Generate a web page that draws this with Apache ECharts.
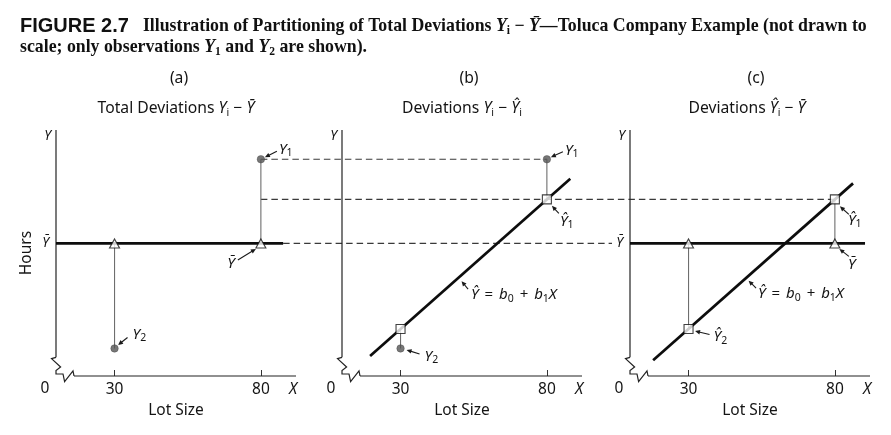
<!DOCTYPE html>
<html>
<head>
<meta charset="utf-8">
<script src="https://cdn.jsdelivr.net/npm/echarts@6/dist/echarts.min.js"></script>
<style>html,body{margin:0;padding:0;background:#fff}#c{width:891px;height:435px}</style>
</head>
<body>
<div id="c"></div>
<script>
// ---------------- data (notional "Hours" scale; figure is not drawn to scale) ----------------
const xTicks = [30, 80];                 // lot sizes shown on the X axis
const xNameAt = 91;                      // where the axis letter X sits
const obsX = [80, 30];                   // X1, X2
const obsY = [88.1, 11.2];               // Y1, Y2  (observations)
const fitY = [71.8, 19.1];               // Ŷ1, Ŷ2  (fitted values)
const meanY = 53.9;                      // Ȳ
const yTopLabel = 97.6;                  // where the axis letter Y sits
const xAxisSpan = [16.15, 92];           // visible X axis after the break
const yAxisSpan = [7.6, 100];            // visible Y axis above the break
const meanLineA = [[10, 53.9], [87.6, 53.9]];
const meanLineC = [[10, 53.9], [90.3, 53.9]];
const fitLineB = [[19.6, 8.1], [88.0, 80.2]];
const fitLineC = [[17.9, 6.4], [86.2, 78.3]];
const panelLetters = ['(a)', '(b)', '(c)'];
const panelTitles = [
  '{r|Total Deviations }{i|Y}{s|i}{r| − }{i|Ȳ}',
  '{r|Deviations }{i|Y}{s|i}{r| − }{i|Ŷ}{s|i}',
  '{r|Deviations }{i|Ŷ}{s|i}{r| − }{i|Ȳ}'
];

// ---------------- styles / layout ----------------
const F = "'Noto Sans', 'DejaVu Sans', sans-serif";
const INK = '#141414';
const gridLefts = [56, 342, 630];
const GT = 130, GW = 240, GH = 246;
const headerX = [179, 469, 756];
const subX = [176, 462, 747];

const RICH = {
  r: {fontFamily: F, fontSize: 15.7, fill: INK, color: INK, lineHeight: 20},
  i: {fontFamily: F, fontSize: 15.7, fontStyle: 'italic', fill: INK, color: INK, lineHeight: 20},
  s: {fontFamily: F, fontSize: 10.5, fill: INK, color: INK, lineHeight: 10, verticalAlign: 'bottom'}
};
const RICH_SM = {
  r: {fontFamily: F, fontSize: 15, fill: INK, color: INK, lineHeight: 19},
  o: {fontFamily: F, fontSize: 15, fill: INK, color: INK, lineHeight: 19, padding: [0, 2, 0, 2]},
  i: {fontFamily: F, fontSize: 15, fontStyle: 'italic', fill: INK, color: INK, lineHeight: 19},
  s: {fontFamily: F, fontSize: 10.5, fill: INK, color: INK, lineHeight: 10, verticalAlign: 'bottom'}
};

const axisStyle = {color: '#222', width: 1.2};
const thin = {color: '#6e6e6e', width: 1.1};
const thick = {color: '#0d0d0d', width: 2.7};

function line(i, data, style) {
  return {type: 'line', xAxisIndex: i, yAxisIndex: i, data: data, symbol: 'none',
          silent: true, clip: false, lineStyle: style, z: 2, animation: false};
}
function pts(i, data, kind) {
  const k = {
    obs: {symbol: 'circle', symbolSize: 7.5, itemStyle: {color: '#555', borderColor: '#444', borderWidth: 0.5}},
    fit: {symbol: 'rect', symbolSize: 9, itemStyle: {color: '#fff', borderColor: '#111', borderWidth: 1.1}},
    mean: {symbol: 'triangle', symbolSize: [10, 9], itemStyle: {color: '#fff', borderColor: '#111', borderWidth: 1.1}}
  }[kind];
  return Object.assign({type: 'scatter', xAxisIndex: i, yAxisIndex: i, data: data, silent: true,
                        z: 5, animation: false}, k);
}

const series = [];
for (let i = 0; i < 3; i++) {
  series.push(line(i, [[10, yAxisSpan[0]], [10, yAxisSpan[1]]], axisStyle));
  series.push(line(i, [[xAxisSpan[0], 0], [xAxisSpan[1], 0]], axisStyle));
}
// (a) total deviations
series.push(line(0, [[obsX[0], obsY[0]], [obsX[0], meanY]], thin));
series.push(line(0, [[obsX[1], meanY], [obsX[1], obsY[1]]], thin));
series.push(line(0, meanLineA, thick));
series.push(pts(0, [[obsX[0], obsY[0]], [obsX[1], obsY[1]]], 'obs'));
series.push(pts(0, [[obsX[0], meanY], [obsX[1], meanY]], 'mean'));
// (b) deviations Y - Ŷ
series.push(line(1, [[obsX[0], obsY[0]], [obsX[0], fitY[0]]], thin));
series.push(line(1, [[obsX[1], fitY[1]], [obsX[1], obsY[1]]], thin));
series.push(line(1, fitLineB, thick));
series.push(pts(1, [[obsX[0], obsY[0]], [obsX[1], obsY[1]]], 'obs'));
series.push(pts(1, [[obsX[0], fitY[0]], [obsX[1], fitY[1]]], 'fit'));
// (c) deviations Ŷ - Ȳ
series.push(line(2, [[obsX[1], meanY], [obsX[1], fitY[1]]], thin));
series.push(line(2, [[obsX[0], fitY[0]], [obsX[0], meanY]], thin));
series.push(line(2, meanLineC, thick));
series.push(line(2, fitLineC, thick));
series.push(pts(2, [[obsX[0], meanY], [obsX[1], meanY]], 'mean'));
series.push(pts(2, [[obsX[0], fitY[0]], [obsX[1], fitY[1]]], 'fit'));

const titleText =
  '{f|FIGURE 2.7}{t|Illustration of Partitioning of Total Deviations }{ti|Y}{ts|i}{t| − }{ti|Ȳ}{t|—Toluca Company Example (not drawn to}\n' +
  '{t|scale; only observations }{ti|Y}{ts|1}{t| and }{ti|Y}{ts|2}{t| are shown).}';
const SERIF = "'Liberation Serif', 'Times New Roman', serif";

const option = {
  animation: false,
  backgroundColor: '#ffffff',
  title: [{
    text: titleText, left: 20, top: 16, padding: 0,
    textStyle: {
      rich: {
        f: {fontFamily: "'Liberation Sans', Arial, sans-serif", fontWeight: 'bold', fontSize: 20, color: '#111', lineHeight: 21, padding: [0, 14, 0, 0]},
        t: {fontFamily: SERIF, fontWeight: 'bold', fontSize: 17.8, color: '#111', lineHeight: 21},
        ti: {fontFamily: SERIF, fontWeight: 'bold', fontStyle: 'italic', fontSize: 17.8, color: '#111', lineHeight: 21},
        ts: {fontFamily: SERIF, fontWeight: 'bold', fontSize: 11.5, color: '#111', lineHeight: 13, verticalAlign: 'bottom'}
      }
    }
  }],
  grid: gridLefts.map(l => ({left: l, top: GT, width: GW, height: GH})),
  xAxis: [0, 1, 2].map(i => ({
    gridIndex: i, type: 'value', min: 10, max: 92,
    axisLine: {show: false}, splitLine: {show: false},
    axisTick: {show: true, inside: true, length: 6, customValues: xTicks, lineStyle: {color: '#333', width: 1}},
    axisLabel: {
      show: true, customValues: xTicks.concat([xNameAt]), margin: 6,
      fontFamily: F, fontSize: 15.5, color: INK,
      formatter: v => v === xNameAt ? '{i|X}' : String(v),
      rich: {i: {fontFamily: F, fontStyle: 'italic', fontSize: 15.5, color: INK}}
    },
    name: 'Lot Size', nameLocation: 'middle', nameGap: 26,
    nameTextStyle: {fontFamily: F, fontSize: 15.5, color: INK}
  })),
  yAxis: [0, 1, 2].map(i => ({
    gridIndex: i, type: 'value', min: 0, max: 100,
    axisLine: {show: false}, axisTick: {show: false}, splitLine: {show: false},
    axisLabel: {
      show: true, customValues: i === 1 ? [yTopLabel] : [meanY, yTopLabel], margin: 5,
      formatter: v => v === yTopLabel ? '{i|Y}' : '{b|Ȳ}',
      rich: {
        i: {fontFamily: F, fontStyle: 'italic', fontSize: 13.5, color: INK},
        b: {fontFamily: F, fontStyle: 'italic', fontSize: 13.5, color: INK, padding: [0, 2, 0, 0]}
      }
    },
    name: i === 0 ? 'Hours' : '', nameLocation: 'middle', nameRotate: 90, nameGap: 21,
    nameTextStyle: {fontFamily: F, fontSize: 15.5, color: INK}
  })),
  series: series
};

const chart = echarts.init(document.getElementById('c'), null, {renderer: 'canvas'});
chart.setOption(option);

// ---------------- decorations placed through the chart's own scales ----------------
const px = (i, p) => chart.convertToPixel({gridIndex: i}, p);
const G = [];

function dashed(a, b) {
  G.push({type: 'line', silent: true, z: 1,
          shape: {x1: a[0], y1: a[1], x2: b[0], y2: b[1]},
          style: {stroke: '#3a3a3a', lineWidth: 1.1, lineDash: [6.5, 4]}});
}
dashed(px(0, [obsX[0], obsY[0]]), px(1, [obsX[0], obsY[0]]));
dashed(px(0, [obsX[0], fitY[0]]), px(2, [obsX[0], fitY[0]]));
(function () {
  const a = px(0, [meanLineA[1][0], meanY]);
  const b = px(2, [10, meanY]);
  dashed(a, [b[0] - 18, b[1]]);
})();

// axis breaks and the "0" labels
for (let i = 0; i < 3; i++) {
  const c = px(i, [10, 0]);
  const top = px(i, [10, yAxisSpan[0]]);
  const end = px(i, [xAxisSpan[0], 0]);
  const rel = [[-4.5, -17.4], [4.6, -9], [0, -5.5], [0, -2], [7, -2], [8.6, 5.6], [17, -5.2]];
  const points = [top].concat(rel.map(r => [c[0] + r[0], c[1] + r[1]])).concat([end]);
  G.push({type: 'polyline', silent: true, z: 3, shape: {points: points},
          style: {stroke: '#222', lineWidth: 1.2, fill: null}});
  G.push({type: 'text', silent: true, z: 10, x: c[0] - 11, y: c[1] + 13,
          style: {text: '0', fontFamily: F, fontSize: 15.5, fill: INK, align: 'center', verticalAlign: 'middle',
                  textAlign: 'center', textVerticalAlign: 'middle'}});
}

// panel headers
for (let i = 0; i < 3; i++) {
  G.push({type: 'text', silent: true, z: 10, x: headerX[i], y: 79,
          style: {text: panelLetters[i], fontFamily: F, fontSize: 15.7, fill: INK, align: 'center', verticalAlign: 'middle',
                  textAlign: 'center', textVerticalAlign: 'middle'}});
  G.push({type: 'text', silent: true, z: 10, x: subX[i], y: 109,
          style: {text: panelTitles[i], rich: RICH, fontFamily: F, fontSize: 15.7, fill: INK, align: 'center', verticalAlign: 'middle',
                  textAlign: 'center', textVerticalAlign: 'middle'}});
}

// pointer annotations
function lerp(a, b, t) { return [a[0] + (b[0] - a[0]) * t, a[1] + (b[1] - a[1]) * t]; }
const eqText = '{i|Ŷ}{o| = }{i|b}{s|0}{o| + }{i|b}{s|1}{i|X}';
const eqB = lerp(px(1, [obsX[1], fitY[1]]), px(1, [obsX[0], fitY[0]]), 0.4);
const eqC = lerp(px(2, [obsX[1], fitY[1]]), px(2, [obsX[0], fitY[0]]), 0.4);
const notes = [
  {at: px(0, [obsX[0], obsY[0]]), text: '{i|Y}{s|1}', lab: [18, -10, 'left'], arr: [[16, -8], [4, -2]]},
  {at: px(0, [obsX[0], meanY]), text: '{i|Ȳ}', lab: [-26, 20, 'right'], arr: [[-23, 16.5], [-5, 5.5]]},
  {at: px(0, [obsX[1], obsY[1]]), text: '{i|Y}{s|2}', lab: [18, -14, 'left'], arr: [[13, -11], [3.5, -3.5]]},
  {at: px(1, [obsX[0], obsY[0]]), text: '{i|Y}{s|1}', lab: [18, -9, 'left'], arr: [[16, -7.5], [4, -2]]},
  {at: px(1, [obsX[0], fitY[0]]), text: '{i|Ŷ}{s|1}', lab: [13, 22, 'left'], arr: [[12, 14], [5, 6.5]]},
  {at: eqB, text: eqText, lab: [12, 17.5, 'left'], arr: [[9, 12], [2.5, 4]]},
  {at: px(1, [obsX[1], obsY[1]]), text: '{i|Y}{s|2}', lab: [24, 8, 'left'], arr: [[19, 5.5], [6, 1.5]]},
  {at: px(2, [obsX[0], fitY[0]]), text: '{i|Ŷ}{s|1}', lab: [13, 21, 'left'], arr: [[14, 15], [5, 7]]},
  {at: px(2, [obsX[0], meanY]), text: '{i|Ȳ}', lab: [13, 21, 'left'], arr: [[14, 13], [4.5, 5.5]]},
  {at: px(2, [obsX[1], fitY[1]]), text: '{i|Ŷ}{s|2}', lab: [25, 8, 'left'], arr: [[21, 5.5], [6.5, 2]]},
  {at: eqC, text: eqText, lab: [11, 17, 'left'], arr: [[9, 11], [1.5, 3.5]]}
];
notes.forEach(n => {
  const p = n.at;
  const s = [p[0] + n.arr[0][0], p[1] + n.arr[0][1]];
  const e = [p[0] + n.arr[1][0], p[1] + n.arr[1][1]];
  const dx = e[0] - s[0], dy = e[1] - s[1], L = Math.hypot(dx, dy);
  const ux = dx / L, uy = dy / L, nx = -uy, ny = ux;
  const hl = 5, hw = 2.3;
  const b = [e[0] - ux * hl, e[1] - uy * hl];
  G.push({type: 'line', silent: true, z: 20,
          shape: {x1: s[0], y1: s[1], x2: b[0] + ux, y2: b[1] + uy},
          style: {stroke: '#1a1a1a', lineWidth: 1.1}});
  G.push({type: 'polygon', silent: true, z: 20,
          shape: {points: [e, [b[0] + nx * hw, b[1] + ny * hw], [b[0] - nx * hw, b[1] - ny * hw]]},
          style: {fill: '#1a1a1a'}});
  G.push({type: 'text', silent: true, z: 20, x: p[0] + n.lab[0], y: p[1] + n.lab[1],
          style: {text: n.text, rich: RICH_SM, fontFamily: F, fontSize: 15, fill: INK,
                  align: n.lab[2], verticalAlign: 'middle', textAlign: n.lab[2], textVerticalAlign: 'middle'}});
});

chart.setOption({graphic: G});
</script>
</body>
</html>
